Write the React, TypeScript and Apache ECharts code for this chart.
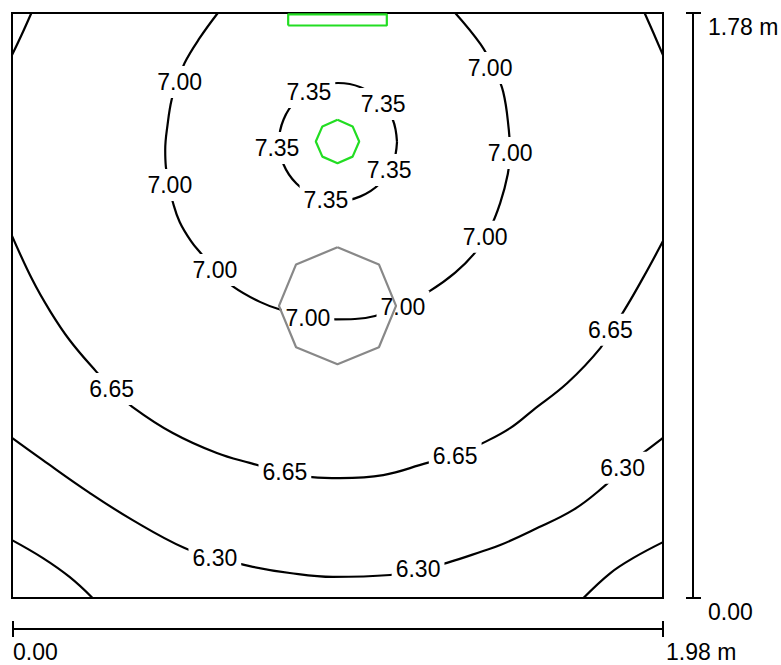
import React, { useEffect, useRef } from "react";
import * as echarts from "echarts";

// Room size (m)
const ROOM_WIDTH = 1.98;
const ROOM_DEPTH = 1.78;

// Isolines [x (m), y (m)]
const iso735: [number, number][] = [
  [1.171, 1.388], [1.158, 1.456], [1.119, 1.515], [1.060, 1.554], [0.992, 1.567],
  [0.923, 1.554], [0.865, 1.515], [0.826, 1.456], [0.812, 1.388], [0.826, 1.319],
  [0.865, 1.261], [0.923, 1.222], [0.992, 1.208], [1.060, 1.222], [1.119, 1.261],
  [1.158, 1.319], [1.171, 1.388],
];
const iso700: [number, number][] = [
  [0.626, 1.78], [0.571, 1.704], [0.525, 1.628], [0.504, 1.570], [0.486, 1.518],
  [0.473, 1.439], [0.466, 1.363], [0.468, 1.312], [0.477, 1.257], [0.489, 1.205],
  [0.510, 1.144], [0.545, 1.085], [0.575, 1.048], [0.617, 0.998], [0.675, 0.946],
  [0.754, 0.901], [0.815, 0.878], [0.900, 0.858], [0.985, 0.848], [1.043, 0.849],
  [1.104, 0.858], [1.186, 0.889], [1.269, 0.933], [1.348, 0.990], [1.410, 1.053],
  [1.452, 1.120], [1.485, 1.202], [1.508, 1.290], [1.515, 1.354], [1.511, 1.425],
  [1.494, 1.540], [1.465, 1.613], [1.425, 1.685], [1.348, 1.78],
];
const iso665: [number, number][] = [
  [0, 1.102], [0.062, 0.968], [0.114, 0.876], [0.175, 0.785], [0.257, 0.688],
  [0.306, 0.636], [0.367, 0.581], [0.489, 0.502], [0.623, 0.441], [0.723, 0.411],
  [0.830, 0.383], [0.912, 0.368], [0.998, 0.365], [1.129, 0.374], [1.263, 0.411],
  [1.348, 0.432], [1.433, 0.472], [1.515, 0.517], [1.585, 0.572], [1.689, 0.654],
  [1.790, 0.761], [1.820, 0.816], [1.857, 0.867], [1.921, 0.977], [1.98, 1.086],
];
const iso665TopLeft: [number, number][] = [[0.059, 1.78], [0.029, 1.713], [0, 1.652]];
const iso665TopRight: [number, number][] = [[1.924, 1.78], [1.951, 1.719], [1.98, 1.652]];
const iso630: [number, number][] = [
  [0, 0.487], [0.093, 0.420], [0.236, 0.320], [0.367, 0.237], [0.525, 0.152],
  [0.617, 0.125], [0.723, 0.097], [0.845, 0.076], [0.976, 0.064], [1.150, 0.070],
  [1.235, 0.085], [1.323, 0.107], [1.433, 0.143], [1.485, 0.161], [1.585, 0.207],
  [1.707, 0.268], [1.799, 0.338], [1.857, 0.393], [1.927, 0.447], [1.98, 0.487],
];
const isoBottomLeft: [number, number][] = [[0, 0.176], [0.093, 0.122], [0.175, 0.064], [0.245, 0]];
const isoBottomRight: [number, number][] = [[1.98, 0.170], [1.890, 0.122], [1.820, 0.076], [1.738, 0]];

// Isoline label positions
const labels735: [number, number][] = [
  [0.903, 1.540], [1.129, 1.503], [0.806, 1.369], [1.147, 1.302], [0.955, 1.211],
];
const labels700: [number, number][] = [
  [0.510, 1.570], [0.480, 1.257], [0.617, 0.998], [0.900, 0.852], [1.189, 0.886],
  [1.439, 1.099], [1.515, 1.354], [1.454, 1.613],
];
const labels665: [number, number][] = [[0.303, 0.636], [0.830, 0.383], [1.348, 0.432], [1.820, 0.816]];
const labels630: [number, number][] = [[0.617, 0.122], [1.235, 0.088], [1.857, 0.396]];

// Luminaire outlines
const lumRect: [number, number][] = [
  [0.840, 1.742], [1.140, 1.742], [1.140, 1.776], [0.840, 1.776], [0.840, 1.742],
];
const lumSmall: [number, number][] = [
  [0.990, 1.455], [1.036, 1.435], [1.056, 1.389], [1.036, 1.343], [0.990, 1.323],
  [0.944, 1.343], [0.924, 1.389], [0.944, 1.435], [0.990, 1.455],
];
const lumLarge: [number, number][] = [
  [0.990, 1.067], [1.116, 1.015], [1.168, 0.889], [1.116, 0.763], [0.990, 0.711],
  [0.864, 0.763], [0.812, 0.889], [0.864, 1.015], [0.990, 1.067],
];

const FONT = '"Liberation Sans", Arial, sans-serif';
const FS = 23;

export default function App() {
  const ref = useRef<HTMLDivElement>(null);
  useEffect(() => {
    document.body.style.margin = "0";
    const chart = echarts.init(ref.current!, null, { renderer: "svg" });
    const GL = 12, GT = 13, GW = 651, GH = 585;
    const lineSeries = (data: [number, number][]) => ({
      type: "line",
      data,
      smooth: 0.4,
      showSymbol: false,
      silent: true,
      z: 2,
      lineStyle: { color: "#000", width: 2.2 },
    });
    const labelSeries = (data: [number, number][], level: number) => ({
      type: "scatter",
      data,
      symbolSize: 0,
      silent: true,
      z: 3,
      itemStyle: { color: "#000", opacity: 0 },
      label: {
        show: true,
        position: "inside",
        formatter: () => level.toFixed(2),
        fontSize: FS,
        fontFamily: FONT,
        color: "#000",
        opacity: 1,
        textBorderWidth: 0,
        textBorderColor: "transparent",
        backgroundColor: "#fff",
        padding: [4, 4, 4, 4],
        lineHeight: 24,
      },
    });
    const lumSeries = (data: [number, number][], color: string) => ({
      type: "line",
      data,
      showSymbol: false,
      silent: true,
      z: 5,
      lineStyle: { color, width: 2.2 },
    });
    const bottomY = GT + GH + 31;
    const rightX = GL + GW + 30;
    const textStyle = (text: string) => ({ text, fontSize: FS, fontFamily: FONT, fill: "#000", lineHeight: 18 });
    chart.setOption({
      animation: false,
      backgroundColor: "#fff",
      grid: {
        left: GL, top: GT, width: GW, height: GH,
        show: true, borderColor: "#000", borderWidth: 2, backgroundColor: "transparent",
      },
      xAxis: { type: "value", min: 0, max: ROOM_WIDTH, show: false },
      yAxis: { type: "value", min: 0, max: ROOM_DEPTH, show: false },
      series: [
        lineSeries(iso735),
        lineSeries(iso700),
        lineSeries(iso665),
        lineSeries(iso665TopLeft),
        lineSeries(iso665TopRight),
        lineSeries(iso630),
        lineSeries(isoBottomLeft),
        lineSeries(isoBottomRight),
        labelSeries(labels735, 7.35),
        labelSeries(labels700, 7.0),
        labelSeries(labels665, 6.65),
        labelSeries(labels630, 6.3),
        lumSeries(lumRect, "#22dd22"),
        lumSeries(lumSmall, "#22dd22"),
        lumSeries(lumLarge, "#888888"),
      ],
      graphic: [
        { type: "line", shape: { x1: GL, y1: bottomY, x2: GL + GW, y2: bottomY }, style: { stroke: "#000", lineWidth: 2 } },
        { type: "line", shape: { x1: GL + 1, y1: bottomY - 8, x2: GL + 1, y2: bottomY + 8 }, style: { stroke: "#000", lineWidth: 2 } },
        { type: "line", shape: { x1: GL + GW, y1: bottomY - 8, x2: GL + GW, y2: bottomY + 8 }, style: { stroke: "#000", lineWidth: 2 } },
        { type: "text", x: GL + 1, y: bottomY + 23, style: { ...textStyle((0).toFixed(2)), textAlign: "left", textVerticalAlign: "middle" } },
        { type: "text", x: GL + GW + 3, y: bottomY + 23, style: { ...textStyle(`${ROOM_WIDTH.toFixed(2)} m`), textAlign: "left", textVerticalAlign: "middle" } },
        { type: "line", shape: { x1: rightX, y1: GT, x2: rightX, y2: GT + GH }, style: { stroke: "#000", lineWidth: 2 } },
        { type: "line", shape: { x1: rightX - 7, y1: GT, x2: rightX + 8, y2: GT }, style: { stroke: "#000", lineWidth: 2 } },
        { type: "line", shape: { x1: rightX - 7, y1: GT + GH, x2: rightX + 8, y2: GT + GH }, style: { stroke: "#000", lineWidth: 2 } },
        { type: "text", x: rightX + 15, y: GT + 14, style: { ...textStyle(`${ROOM_DEPTH.toFixed(2)} m`), textAlign: "left", textVerticalAlign: "middle" } },
        { type: "text", x: rightX + 15, y: GT + GH + 14, style: { ...textStyle((0).toFixed(2)), textAlign: "left", textVerticalAlign: "middle" } },
      ],
    });
    return () => chart.dispose();
  }, []);
  return <div ref={ref} style={{ position: "absolute", left: 0, top: 0, width: 781, height: 665 }} />;
}
